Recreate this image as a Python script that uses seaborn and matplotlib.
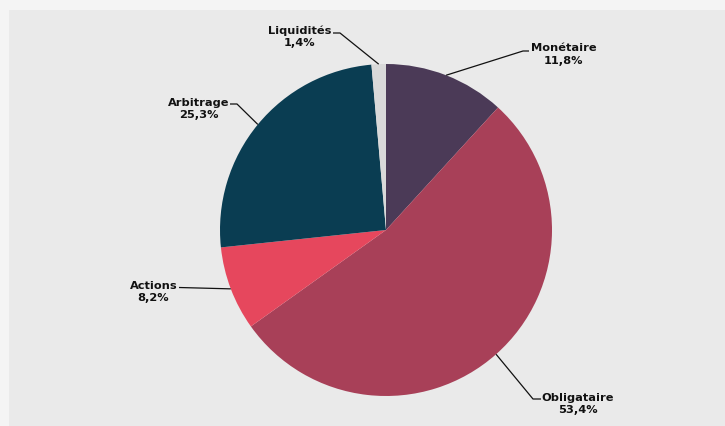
import numpy as np
import matplotlib
matplotlib.use("Agg")
import matplotlib.pyplot as plt
from matplotlib.patches import Rectangle
import seaborn as sns

# ---- data ----
categories = ["Monétaire", "Obligataire", "Actions", "Arbitrage", "Liquidités"]
values = [11.8, 53.4, 8.2, 25.3, 1.4]
value_labels = ["11,8%", "53,4%", "8,2%", "25,3%", "1,4%"]
colors = ["#4b3a57", "#a84058", "#e6475d", "#0a3d52", "#d9d9d9"]

# ---- layout (pixel coords, y measured from top) ----
W, H = 725, 426
center_px = (386, 230)
radius_px = 166
# elbow of leader line, end of short horizontal tick, text centre
layout = {
    "Monétaire":   dict(elbow=(523, 51), tick=(529, 51), text=(563.5, 54.5)),
    "Obligataire": dict(elbow=(533, 399), tick=(541, 399), text=(577.5, 404)),
    "Actions":     dict(elbow=(179, 287.5), tick=(179, 287.5), text=(153.5, 292)),
    "Arbitrage":   dict(elbow=(237, 104), tick=(230, 104), text=(199, 109)),
    "Liquidités":  dict(elbow=(340, 33), tick=(333, 33), text=(300, 36.5)),
}

sns.set_theme(style="white")
plt.rcParams["font.family"] = ["DejaVu Sans"]

fig = plt.figure(figsize=(W / 100, H / 100), dpi=100)
fig.patch.set_facecolor("#f4f4f4")

ax = fig.add_axes([0, 0, 1, 1])
ax.patch.set_alpha(0)

palette = sns.color_palette(colors)
cx, cy = center_px[0], H - center_px[1]
wedges, _ = ax.pie(values, colors=palette, startangle=90, counterclock=False,
                   center=(cx, cy), radius=radius_px, frame=True,
                   wedgeprops=dict(linewidth=0))
ax.add_patch(Rectangle((9, 0), W - 9, H - 10, facecolor="#eaeaea",
                       edgecolor="none", zorder=0))
for w in wedges:
    w.set_zorder(2)
ax.set_xlim(0, W)
ax.set_ylim(0, H)
ax.set_aspect("equal")
ax.axis("off")

for w, cat, lab in zip(wedges, categories, value_labels):
    ang = np.deg2rad((w.theta1 + w.theta2) / 2)
    ex, ey = cx + radius_px * np.cos(ang), cy + radius_px * np.sin(ang)
    L = layout[cat]
    bx, by = L["elbow"][0], H - L["elbow"][1]
    tx, ty = L["tick"][0], H - L["tick"][1]
    ax.plot([ex, bx, tx], [ey, by, ty], color="#111111", lw=0.9,
            solid_capstyle="butt", zorder=5)
    ax.text(L["text"][0], H - L["text"][1], f"{cat}\n{lab}", ha="center",
            va="center", multialignment="center", fontsize=8.2,
            fontweight="bold", color="#111111", linespacing=1.3, zorder=6)

fig.savefig("out.png", dpi=100, facecolor=fig.get_facecolor())
